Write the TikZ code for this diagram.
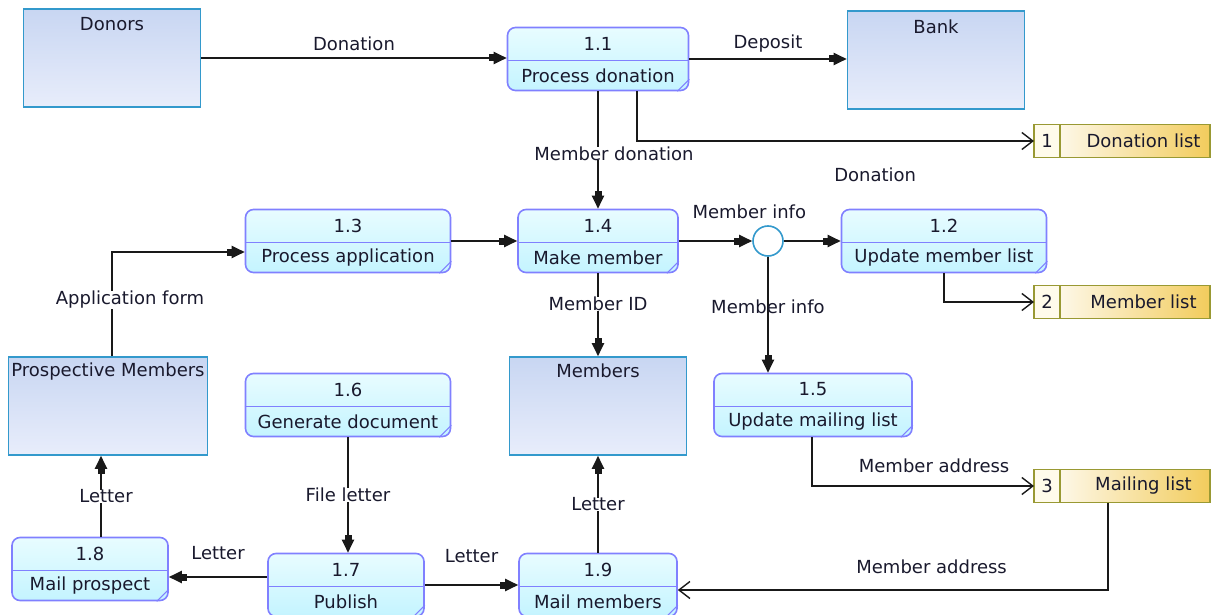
\documentclass[tikz,border=0pt]{standalone}
\usepackage{fontspec}
\setmainfont{DejaVu Sans}
\usetikzlibrary{arrows.meta}
\definecolor{entline}{RGB}{51,153,204}
\definecolor{entfillA}{RGB}{200,214,242}
\definecolor{entfillB}{RGB}{232,237,251}
\definecolor{procline}{RGB}{128,128,255}
\definecolor{procfillA}{RGB}{232,252,255}
\definecolor{procfillB}{RGB}{196,244,255}
\definecolor{storeline}{RGB}{153,153,51}
\definecolor{storefill}{RGB}{242,204,92}
\definecolor{storecell}{RGB}{255,251,235}
\definecolor{dfdtext}{RGB}{25,25,45}
\newcommand{\dfdfont}{\fontsize{18}{22}\selectfont}
\tikzset{
	entity/.style={draw=entline, line width=1.6pt, top color=entfillA, bottom color=entfillB,
		minimum width=177pt, minimum height=98pt, inner sep=0pt},
	proc/.style={draw=procline, line width=1.6pt, rounded corners=8pt, top color=procfillA,
		bottom color=procfillB, minimum height=63pt, inner sep=0pt},
	store/.style={draw=storeline, line width=1.6pt, left color=white, right color=storefill,
		minimum width=176pt, minimum height=33pt, inner sep=0pt, outer sep=0pt},
	junction/.style={circle, draw=entline, line width=1.6pt, fill=white, minimum size=30pt, inner sep=0pt},
	txt/.style={font=\dfdfont, text=dfdtext, inner sep=1pt},
	onflow/.style={txt, fill=white, inner sep=0pt},
	flow/.style={line width=2pt, draw=black!90,
		-{Rectangle[length=5pt,width=7pt]Triangle[length=13pt,width=12pt]}},
	flowopen/.style={line width=2pt, draw=black!90,
		-{Straight Barb[length=11pt,width=17pt,line width=1.4pt]}}
}
% process: name, centre, width, number, text
\newcommand{\dfdproc}[5]{%
	\node[proc, minimum width=#3] (#1) at #2 {};
	\draw[procline, line width=1.6pt] ([yshift=-1.5pt]#1.west) -- ([yshift=-1.5pt]#1.east);
	\draw[procline, line width=1pt] ([xshift=-12pt]#1.south east) -- ([yshift=12pt]#1.south east);
	\node[txt] (#1-no) at ([yshift=15.5pt]#1.center) {#4};
	\node[txt] (#1-name) at ([yshift=-16.5pt]#1.center) {#5};
}
% data store: name, centre, number, text
\newcommand{\dfdstore}[4]{%
	\node[store] (#1) at #2 {};
	\fill[storecell] ([xshift=0.8pt,yshift=-0.8pt]#1.north west) rectangle ([xshift=26pt,yshift=0.8pt]#1.south west);
	\draw[storeline, line width=1.6pt] ([xshift=26pt]#1.north west) -- ([xshift=26pt]#1.south west);
	\node[txt] (#1-no) at ([xshift=13pt]#1.west) {#3};
	\node[txt] (#1-name) at ([xshift=109.5pt]#1.west) {#4};
}

\begin{document}
\begin{tikzpicture}[x=1pt, y=-1pt]
	\useasboundingbox (0,0) rectangle (1211,615);

	% external entities
	\node[entity] (donors) at (112,58) {};
	\node[txt] (donors-name) at ([yshift=-16pt]donors.north) {Donors};
	\node[entity] (bank) at (936,60) {};
	\node[txt] (bank-name) at ([yshift=-17pt]bank.north) {Bank};
	\node[entity, minimum width=199pt] (prosp) at (108,406) {};
	\node[txt] (prosp-name) at ([yshift=-15pt]prosp.north) {Prospective Members};
	\node[entity] (members) at (598,406) {};
	\node[txt] (members-name) at ([yshift=-15pt]members.north) {Members};

	% processes
	\dfdproc{p11}{(598,59)}{181pt}{1.1}{Process donation}
	\dfdproc{p13}{(348,241)}{205pt}{1.3}{Process application}
	\dfdproc{p14}{(598,241)}{160pt}{1.4}{Make member}
	\dfdproc{p12}{(944,241)}{205pt}{1.2}{Update member list}
	\dfdproc{p15}{(813,405)}{198pt}{1.5}{Update mailing list}
	\dfdproc{p16}{(348,405)}{205pt}{1.6}{Generate document}
	\dfdproc{p17}{(346,585)}{156pt}{1.7}{Publish}
	\dfdproc{p18}{(90,569)}{156pt}{1.8}{Mail prospect}
	\dfdproc{p19}{(598,585)}{158pt}{1.9}{Mail members}

	% data stores
	\dfdstore{ds1}{(1122,141)}{1}{Donation list}
	\dfdstore{ds2}{(1122,302)}{2}{Member list}
	\dfdstore{ds3}{(1122,486)}{3}{Mailing list}

	\node[junction] (jn) at (768,241) {};

	% flows
	\draw[flow] (donors.east) -- (donors.east -| p11.west) node[txt, midway, yshift=14pt] (l-donation) {Donation};
	\draw[flow] (p11.east) -- (p11.east -| bank.west) node[txt, midway, yshift=15pt] (l-deposit) {Deposit};
	\draw[flowopen] ([xshift=39pt]p11.south) |- (ds1.west) node[txt, pos=0.8, yshift=-34pt] (l-donation2) {Donation};
	\draw[flow] (p11.south) -- (p11.south |- p14.north) node[onflow, pos=0.53, xshift=16pt] (l-memdon) {Member donation};
	\draw[flow] (p13.east) -- (p14.west);
	\draw[flow] (p14.east) -- (jn.west) node[txt, pos=0.96, yshift=29pt] (l-info1) {Member info};
	\draw[flow] (jn.east) -- (p12.west);
	\draw[flowopen] (p12.south) |- (ds2.west);
	\draw[flow] (jn.south) -- (jn.south |- p15.north) node[txt, pos=0.43] (l-info2) {Member info};
	\draw[flowopen] ([xshift=-1pt]p15.south) |- (ds3.west) node[txt, pos=0.775, yshift=20pt] (l-addr1) {Member address};
	\draw[flowopen] ([xshift=-14pt]ds3.south) |- ([yshift=-5pt]p19.east) node[txt, pos=0.705, yshift=23pt] (l-addr2) {Member address};
	\draw[flow] (p14.south) -- (p14.south |- members.north) node[onflow, pos=0.37] (l-id) {Member ID};
	\draw[flow] ([xshift=4pt]prosp.north) |- ([yshift=-11pt]p13.west) node[onflow, pos=0.27, xshift=18pt] (l-form) {Application form};
	\draw[flow] (p16.south) -- (p16.south |- p17.north) node[onflow, midway] (l-file) {File letter};
	\draw[flow] ([yshift=8pt]p17.west) -- ([yshift=8pt]p17.west -| p18.east) node[txt, midway, yshift=24pt] (l-letter1) {Letter};
	\draw[flow] (p17.east) -- (p19.west) node[txt, midway, yshift=29pt] (l-letter2) {Letter};
	\draw[flow] ([xshift=11pt]p18.north) -- ([xshift=11pt]p18.north |- prosp.south) node[onflow, midway, xshift=5pt] (l-letter3) {Letter};
	\draw[flow] (p19.north) -- (p19.north |- members.south) node[onflow, midway] (l-letter4) {Letter};
\end{tikzpicture}
\end{document}
